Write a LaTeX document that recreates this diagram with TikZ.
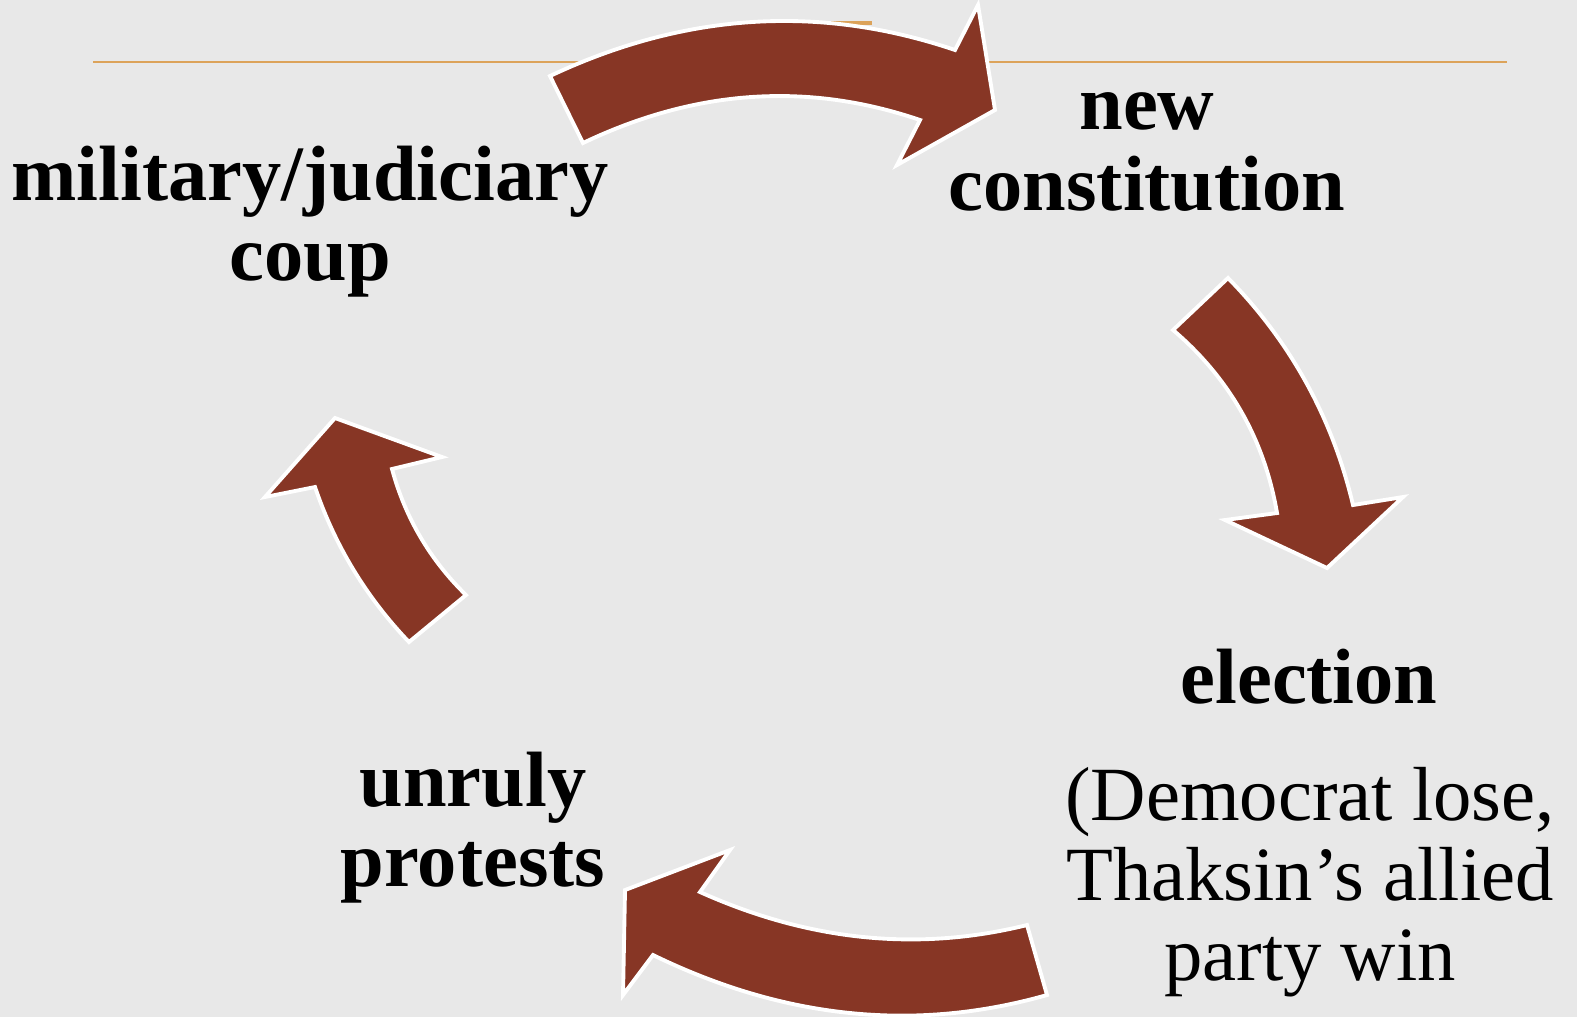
\documentclass[tikz,border=0pt]{standalone}
\usepackage{fontspec}
\setmainfont{Liberation Serif}
\definecolor{rust}{RGB}{135,54,37}
\definecolor{paper}{RGB}{232,232,232}
\definecolor{rulecol}{RGB}{220,163,90}

\begin{document}
\begin{tikzpicture}[x=0.01cm,y=-0.01cm,
		blockarrow/.style={fill=rust,draw=white,line width=1.1pt,line join=miter},
		headline/.style={draw=rulecol,line width=0.8pt},
		boldlabel/.style={align=center,inner sep=0pt,font=\fontsize{22.3}{22.8}\selectfont\bfseries},
		plainlabel/.style={align=center,inner sep=0pt,font=\fontsize{21.8}{22.8}\selectfont}
		]
		
		\fill[paper] (0,0) rectangle (1577,1017);
		\useasboundingbox (0,0) rectangle (1577,1017);
		
		% title rules
		\draw[headline] (93,62) -- (1507,62);
		\draw[headline,line width=1.2pt] (760,23) -- (872,23);
		
		% cycle arrows
		\draw[blockarrow] (550,76) -- (583,143) .. controls (695.3,89.3) and (807.7,81.7) .. (920,120) -- (897,165) -- (995,110) -- (978,5) -- (955,50) .. controls (819.3,4) and (684.3,12.7) .. (550,76) -- cycle;
		\draw[blockarrow] (1228,278) -- (1173,330) .. controls (1229.7,378.3) and (1264.3,439.3) .. (1277,513) -- (1225,520) -- (1327,568) -- (1403,497) -- (1353,505) .. controls (1332.3,417.7) and (1290.7,342) .. (1228,278) -- cycle;
		\draw[blockarrow] (1027,925) -- (1047,995) .. controls (915.7,1032.3) and (784.3,1019) .. (653,955) -- (623,995) -- (625,890) -- (730,850) -- (700,892) .. controls (809,941) and (918,952) .. (1027,925) -- cycle;
		\draw[blockarrow] (466,595) -- (409,642) .. controls (366.3,597.3) and (334.9,545.6) .. (315,487) -- (265,497) -- (335,418) -- (442,457) -- (392,469) .. controls (405.2,517.7) and (429.9,559.7) .. (466,595) -- cycle;
		
		% stages
		\node[boldlabel] (coup) at (310,222) {military/judiciary\\coup};
		\node[boldlabel] (constitution) at (1147,152) {new\\constitution};
		\node[boldlabel,anchor=base] (election) at (1309,703) {election};
		\node[plainlabel] (outcome) at (1310,882) {(Democrat lose,\\Thaksin's allied\\party win};
		\node[boldlabel] (protests) at (473,828) {unruly\\protests};
	\end{tikzpicture}
\end{document}
